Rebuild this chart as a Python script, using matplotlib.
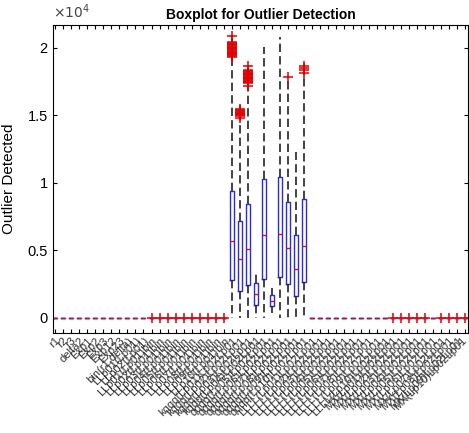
import matplotlib
matplotlib.use('Agg')
import matplotlib.pyplot as plt
from matplotlib.transforms import ScaledTranslation

plt.rcParams['font.family'] = ['Liberation Sans', 'DejaVu Sans']

# category names (tick labels, unreadable in the source, kept similar in length)
labels = ['r1', 'r2', 'r3', 'delta2', 'Exp1', 'Exp2', 'Exp3', 'Exp12', 'Exp23',
          'bin(r1,delta)', 'LLp01(Lp01)', 'LLp02(Lp01)',
          'LLp01(Lp01)bin', 'LLp02(Lp01)bin', 'LLp03(Lp01)bin', 'LLp04(Lp01)bin',
          'LLp05(Lp01)bin', 'LLp06(Lp01)bin', 'LLp07(Lp01)bin', 'LLp08(Lp01)bin',
          'LLp09(Lp01)bin', 'LLp10(Lp01)bin',
          'kqqq(Lp01)Lp02Lp01', 'kqqq(Lp02)Lp02Lp01', 'kqqq(Lp03)Lp02Lp01',
          'kqqq(Lp04)Lp02Lp01', 'qqqq(Lp05)Lp02Lp01', 'qqqq(Lp06)Lp02Lp01',
          'qqqq(Lp07)Lp02Lp01', 'qqqq(Lp08)Lp02Lp01', 'qqqq(Lp09)Lp02Lp01',
          'qqqq(Lp10)Lp02Lp01',
          'LLLL(Lp01)Lp02Lp01', 'LLLL(Lp02)Lp02Lp01', 'LLLL(Lp03)Lp02Lp01',
          'LLLL(Lp04)Lp02Lp01', 'LLLL(Lp05)Lp02Lp01', 'LLLL(Lp06)Lp02Lp01',
          'LLLL(Lp07)Lp02Lp01', 'LLLL(Lp08)Lp02Lp01', 'LLLL(Lp09)Lp02Lp01',
          'LLLL(Lp10)Lp02Lp01',
          'MX(Lp01)Lp02Lp01', 'MX(Lp02)Lp02Lp01', 'MX(Lp03)Lp02Lp01',
          'MX(Lp04)Lp02Lp01', 'MX(Lp05)Lp02Lp01', 'MX(Lp06)Lp02Lp01',
          'MX(Lp07)Lp02Lp01', 'MX(Lp08)Lp02Lp01', 'MX(Lp09)Lp02Lp01',
          'MX(Lp10)Lp02Lp01']

# box statistics per category (most columns are all zeros)
q1 = [0] * 22 + [2815, 2022, 2444, 963, 2911, 911, 3059, 2496, 1630, 2644] + [0] * 20
med = [0] * 22 + [5726, 4348, 5089, 1778, 6148, 1283, 6222, 5207, 3607, 5333] + [0] * 20
q3 = [0] * 22 + [9407, 7207, 8422, 2570, 10274, 1704, 10422, 8615, 6148, 8790] + [0] * 20
wlo = [0] * 22 + [0, 0, 0, 0, 0, 350, 0, 0, 0, 0] + [0] * 20
whi = [0] * 22 + [19200, 14600, 17050, 3430, 20050, 2200, 20840, 17700, 12320, 17950] + [0] * 20

# outliers
fliers = [[] for _ in range(52)]
for i in range(12, 22):
    fliers[i] = [20]
fliers[22] = [19360, 19420, 19480, 19540, 19600, 19660, 19720, 19780, 19840, 19900,
              19960, 20020, 20080, 20140, 20200, 20260, 20320, 20380, 20440, 20890]
fliers[23] = [14790, 14960, 15020, 15080, 15140, 15200, 15260, 15320, 15380, 15440]
fliers[24] = [17210, 17380, 17440, 17500, 17560, 17620, 17680, 17740, 17800, 17860,
              17920, 17980, 18040, 18100, 18160, 18220, 18280, 18340, 18690]
fliers[29] = [17880]
fliers[31] = [18150, 18330, 18480, 18660]
for i in [42, 43, 44, 45, 46, 48, 49, 50, 51]:
    fliers[i] = [-40]

ytick_vals = [0, 5000, 10000, 15000, 20000]
ytick_text = ['0', '0.5', '1', '1.5', '2']

stats = []
for i in range(len(labels)):
    stats.append({'q1': q1[i], 'med': med[i], 'q3': q3[i],
                  'whislo': wlo[i], 'whishi': whi[i], 'fliers': fliers[i]})

fig = plt.figure(figsize=(4.69, 4.33), dpi=100)
ax = fig.add_axes([0.1124, 0.2317, 0.8856, 0.7106])

ax.bxp(stats, positions=range(1, len(labels) + 1), widths=0.5, showcaps=False,
       boxprops=dict(color='#2b2bd9', linewidth=1.0),
       medianprops=dict(color='#e01010', linewidth=1.0),
       whiskerprops=dict(color='#222222', linewidth=1.2, linestyle=(0, (5, 2.5))),
       flierprops=dict(marker='+', markeredgecolor='#e00000', markersize=7,
                       markeredgewidth=1.1, linestyle='none'))

ax.set_xlim(0.71, 52.37)
ax.set_ylim(-1100, 21700)
ax.set_yticks(ytick_vals)
ax.set_yticklabels(ytick_text)
ax.text(0.0, 1.012, r'$\times10^4$', transform=ax.transAxes, fontsize=10,
        color='#444444', ha='left', va='bottom')

ax.set_xticks(range(1, len(labels) + 1))
ax.set_xticklabels(labels, rotation=45, ha='right', va='top', rotation_mode='anchor',
                   fontsize=8, color='#333333')
ax.tick_params(direction='in', length=3, top=True, right=True, labelsize=10.5)
ax.tick_params(axis='x', labelsize=8, pad=2)

# keep the last rotated label inside the figure (small nudge, less than a tick step)
last = ax.get_xticklabels()[-1]
last.set_transform(last.get_transform() + ScaledTranslation(-2.5 / 72, 0, fig.dpi_scale_trans))

ax.set_title('Boxplot for Outlier Detection', fontsize=10, fontweight='bold', pad=4)
ax.set_ylabel('Outlier Detected', fontsize=11, labelpad=8)

fig.savefig('out.png', dpi=100)
